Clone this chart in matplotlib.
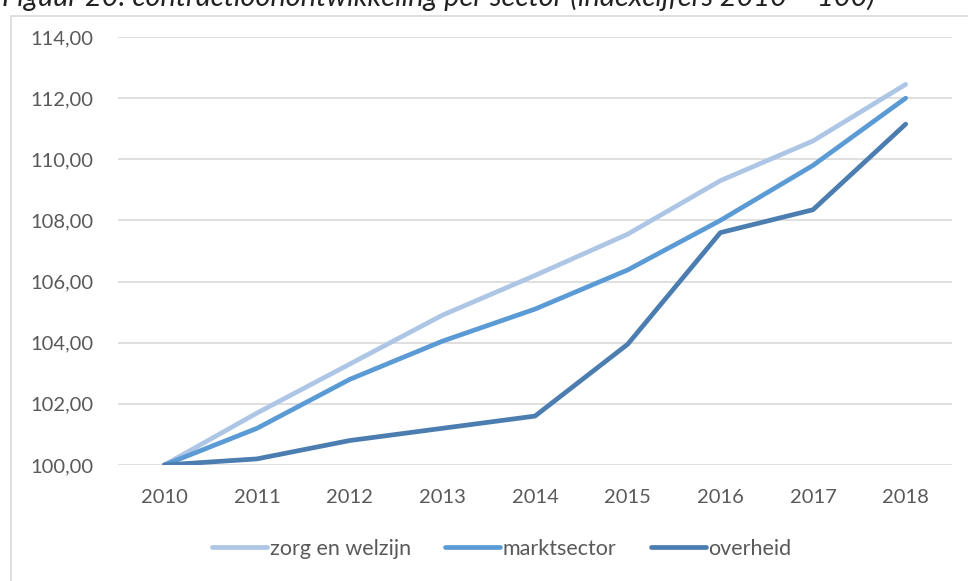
import matplotlib.pyplot as plt
from matplotlib.patches import Rectangle
from matplotlib.ticker import FuncFormatter

plt.rcParams['font.family'] = ['Lato', 'DejaVu Sans']

years = ['2010', '2011', '2012', '2013', '2014', '2015', '2016', '2017', '2018']
zorg = [100.0, 101.7, 103.3, 104.9, 106.2, 107.55, 109.3, 110.6, 112.45]
markt = [100.0, 101.2, 102.8, 104.05, 105.1, 106.38, 108.0, 109.8, 112.0]
overheid = [100.0, 100.2, 100.8, 101.2, 101.6, 103.95, 107.6, 108.35, 111.15]

series = [('zorg en welzijn', zorg, '#aec6e6'),
          ('marktsector', markt, '#5b9bd5'),
          ('overheid', overheid, '#4b7db1')]

fig = plt.figure(figsize=(9.68, 5.81), dpi=100)
ax = fig.add_axes([118 / 968, 1 - 465 / 581, 834 / 968, 428 / 581])

# chart frame (runs off the right/bottom edge in the reference)
fig.patches.append(Rectangle((11 / 968, -0.1), 1.0, 1 - 16 / 581 + 0.1,
                             transform=fig.transFigure, fill=False,
                             edgecolor='#d9d9d9', linewidth=1.2))

# caption, cut off at the top like in the reference
fig.text(2 / 968, 1 - 6 / 581,
         'Figuur 20: contractloonontwikkeling per sector (indexcijfers 2010 = 100)',
         fontsize=20.8, style='italic', color='#222222', va='baseline', ha='left')

x = range(len(years))
for name, vals, col in series:
    ax.plot(x, vals, color=col, lw=3.4, solid_capstyle='round',
            solid_joinstyle='round', label=name, zorder=3)

ax.set_xlim(-0.5, len(years) - 0.5)
ax.set_ylim(100, 114)
ax.set_yticks(range(100, 115, 2))
ax.yaxis.set_major_formatter(FuncFormatter(lambda v, p: f'{v:.2f}'.replace('.', ',')))
ax.set_xticks(list(x))
ax.set_xticklabels(years)
ax.grid(axis='y', color='#d9d9d9', lw=1.2, zorder=0)
for s in ax.spines.values():
    s.set_visible(False)
ax.tick_params(length=0, labelsize=14.5, colors='#595959')
ax.tick_params(axis='y', pad=18)
ax.tick_params(axis='x', pad=17)

fig.legend(loc='center', bbox_to_anchor=(502 / 968, 1 - 549 / 581), ncol=3,
           frameon=False, fontsize=15.5, labelcolor='#595959',
           handlelength=2.55, handletextpad=0.12, columnspacing=1.6)

fig.savefig('out.png', dpi=100)
